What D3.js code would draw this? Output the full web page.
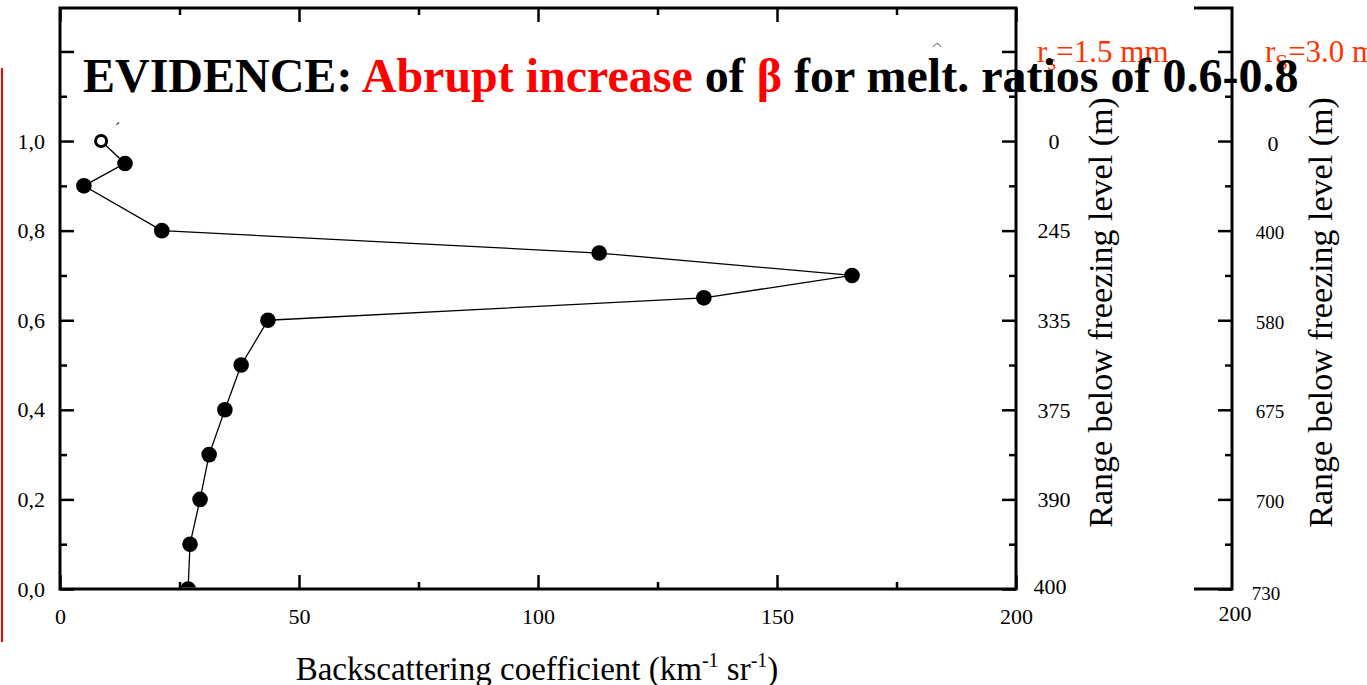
<!DOCTYPE html>
<html>
<head>
<meta charset="utf-8">
<script src="https://cdn.jsdelivr.net/npm/d3@7/dist/d3.min.js"></script>
<style>
  html, body { margin: 0; padding: 0; background: #fff; }
  svg { display: block; }
  text { font-family: "Liberation Serif", "Times New Roman", serif; }
</style>
</head>
<body>
<svg id="chart" width="1367" height="685"></svg>
<script>
// Melting ratio (vertical) and backscattering coefficient beta (km^-1 sr^-1)
const meltRatio = [1.0, 0.95, 0.9, 0.8, 0.75, 0.7, 0.65, 0.6, 0.5, 0.4, 0.3, 0.2, 0.1, 0.0];
const beta      = [8.6, 13.6, 5.0, 21.3, 112.8, 165.7, 134.7, 43.5, 37.9, 34.5, 31.2, 29.3, 27.2, 26.8];
// first profile point is drawn hollow
const hollow    = [true, false, false, false, false, false, false, false, false, false, false, false, false, false];

// axis ticks
const xMajorTicks = [0, 50, 100, 150, 200];
const xMinorTicks = [25, 75, 125, 175];
const yMajorTicks = [0, 0.2, 0.4, 0.6, 0.8, 1.0, 1.2];
const yMinorTicks = [0.1, 0.3, 0.5, 0.7, 0.9, 1.1];
const yLabelTicks = [0, 0.2, 0.4, 0.6, 0.8, 1.0];

// range below freezing level for two snowflake sizes
const rangeTicks   = [1.0, 0.8, 0.6, 0.4, 0.2, 0.0];
const range15mm    = ["0", "245", "335", "375", "390", "400"];
const range30mm    = ["0", "400", "580", "675", "700", "730"];

const svg = d3.select("#chart");
const plot = { left: 60, right: 1016, top: 8, bottom: 589 };
const axis2X = 1232;

const x = d3.scaleLinear().domain([0, 200]).range([plot.left, plot.right]);
const y = d3.scaleLinear().domain([0, 1.297]).range([plot.bottom, plot.top]);

const MAJ = 14, MIN = 7;
const TICK_FONT = 22;

function styleAxis(g) {
  g.selectAll("path.domain").remove();
  g.selectAll(".tick line").attr("stroke", "#000").attr("stroke-width", 2.5);
  g.selectAll("text").attr("font-size", TICK_FONT).attr("fill", "#000")
    .attr("font-family", "Liberation Serif");
}

// red side bar
svg.append("line").attr("x1", 2).attr("x2", 2).attr("y1", 68).attr("y2", 642)
  .attr("stroke", "#ff0000").attr("stroke-width", 2);

// frame of main plot
svg.append("rect")
  .attr("x", plot.left).attr("y", plot.top)
  .attr("width", plot.right - plot.left).attr("height", plot.bottom - plot.top)
  .attr("fill", "none").attr("stroke", "#000").attr("stroke-width", 3);

// bottom axis
const gB = svg.append("g").attr("transform", `translate(0,${plot.bottom})`)
  .call(d3.axisBottom(x).tickValues(xMajorTicks).tickSize(-MAJ).tickPadding(19).tickFormat(d3.format("d")));
styleAxis(gB);
const gBm = svg.append("g").attr("transform", `translate(0,${plot.bottom})`)
  .call(d3.axisBottom(x).tickValues(xMinorTicks).tickSize(-MIN).tickFormat(""));
styleAxis(gBm);

// top axis
const gT = svg.append("g").attr("transform", `translate(0,${plot.top})`)
  .call(d3.axisTop(x).tickValues(xMajorTicks).tickSize(-MAJ).tickFormat(""));
styleAxis(gT);
const gTm = svg.append("g").attr("transform", `translate(0,${plot.top})`)
  .call(d3.axisTop(x).tickValues(xMinorTicks).tickSize(-MIN).tickFormat(""));
styleAxis(gTm);

// left axis
const commaFmt = d => d.toFixed(1).replace(".", ",");
const gL = svg.append("g").attr("transform", `translate(${plot.left},0)`)
  .call(d3.axisLeft(y).tickValues(yMajorTicks).tickSize(-MAJ).tickPadding(15)
    .tickFormat(d => yLabelTicks.includes(d) ? commaFmt(d) : ""));
styleAxis(gL);
const gLm = svg.append("g").attr("transform", `translate(${plot.left},0)`)
  .call(d3.axisLeft(y).tickValues(yMinorTicks).tickSize(-MIN).tickFormat(""));
styleAxis(gLm);

// right axis of main plot (range for r_s = 1.5 mm)
const gR = svg.append("g").attr("transform", `translate(${plot.right},0)`)
  .call(d3.axisRight(y).tickValues(yMajorTicks).tickSize(-MAJ).tickFormat(""));
styleAxis(gR);
const gRm = svg.append("g").attr("transform", `translate(${plot.right},0)`)
  .call(d3.axisRight(y).tickValues(yMinorTicks).tickSize(-MIN).tickFormat(""));
styleAxis(gRm);
svg.append("g").selectAll("text").data(rangeTicks).join("text")
  .attr("x", (d, i) => i === rangeTicks.length - 1 ? 1050 : 1054)
  .attr("y", (d, i) => y(d) + (i === rangeTicks.length - 1 ? -3 : 0)).attr("dy", "0.35em")
  .attr("text-anchor", "middle").attr("font-size", TICK_FONT)
  .text((d, i) => range15mm[i]);

// second range axis (r_s = 3.0 mm)
svg.append("path")
  .attr("d", `M1194,${plot.top}H${axis2X}V${plot.bottom}H1194`)
  .attr("fill", "none").attr("stroke", "#000").attr("stroke-width", 3);
const gR2 = svg.append("g").attr("transform", `translate(${axis2X},0)`)
  .call(d3.axisRight(y).tickValues(yMajorTicks).tickSize(-MAJ).tickFormat(""));
styleAxis(gR2);
const gR2m = svg.append("g").attr("transform", `translate(${axis2X},0)`)
  .call(d3.axisRight(y).tickValues(yMinorTicks).tickSize(-MIN).tickFormat(""));
styleAxis(gR2m);
svg.append("g").selectAll("text").data(rangeTicks).join("text")
  .attr("x", (d, i) => i === 0 ? 1273 : (i === rangeTicks.length - 1 ? 1266 : 1270))
  .attr("y", (d, i) => y(d) + (i === rangeTicks.length - 1 ? 4 : 2)).attr("dy", "0.35em")
  .attr("text-anchor", "middle")
  .attr("font-size", (d, i) => i === 0 ? TICK_FONT : 19)
  .text((d, i) => range30mm[i]);
svg.append("text").attr("x", axis2X + 3).attr("y", 613).attr("dy", "0.35em")
  .attr("text-anchor", "middle").attr("font-size", TICK_FONT).text("200");

// axis titles
svg.append("text")
  .attr("transform", `translate(1112,${(97 + 528) / 2}) rotate(-90)`)
  .attr("text-anchor", "middle").attr("font-size", 34)
  .text("Range below freezing level (m)");
svg.append("text")
  .attr("transform", `translate(1332,${(97 + 528) / 2}) rotate(-90)`)
  .attr("text-anchor", "middle").attr("font-size", 34)
  .text("Range below freezing level (m)");

const xt = svg.append("text").attr("x", 537).attr("y", 680)
  .attr("text-anchor", "middle").attr("font-size", 33);
xt.append("tspan").text("Backscattering coefficient (km");
xt.append("tspan").attr("dy", -13).attr("font-size", 20).text("-1");
xt.append("tspan").attr("dy", 13).text(" sr");
xt.append("tspan").attr("dy", -13).attr("font-size", 20).text("-1");
xt.append("tspan").attr("dy", 13).text(")");

// size labels
function sizeLabel(x0, sub, val) {
  const t = svg.append("text").attr("x", x0).attr("y", 62)
    .attr("font-size", 31).attr("fill", "#ff3300");
  t.append("tspan").text("r");
  t.append("tspan").attr("dy", 8).attr("font-size", 23).text(sub);
  t.append("tspan").attr("dy", -8).text("=" + val);
}
sizeLabel(1037, "s", "1.5 mm");
sizeLabel(1265, "S", "3.0 mm");

// data profile
svg.append("defs").append("clipPath").attr("id", "plotClip")
  .append("rect").attr("x", plot.left).attr("y", plot.top)
  .attr("width", plot.right - plot.left).attr("height", plot.bottom - plot.top - 1.5);

const pts = meltRatio.map((m, i) => ({ m, b: beta[i], open: hollow[i] }));
const gData = svg.append("g").attr("clip-path", "url(#plotClip)");
gData.append("path").datum(pts)
  .attr("d", d3.line().x(d => x(d.b)).y(d => y(d.m)))
  .attr("fill", "none").attr("stroke", "#000").attr("stroke-width", 1.3);
gData.selectAll("circle").data(pts).join("circle")
  .attr("cx", d => x(d.b)).attr("cy", d => y(d.m))
  .attr("r", d => d.open ? 5.5 : 7.8)
  .attr("fill", d => d.open ? "#fff" : "#000")
  .attr("stroke", "#000").attr("stroke-width", d => d.open ? 3 : 0);

// small stray marks
svg.append("text").attr("x", 115).attr("y", 134).attr("font-size", 16).text("\u00b4");
svg.append("path").attr("d", "M933,47 Q937,40 941,47").attr("fill", "none")
  .attr("stroke", "#555").attr("stroke-width", 1);

// title
const title = svg.append("text").attr("x", 83).attr("y", 92)
  .attr("font-size", 48).attr("font-weight", "bold");
title.append("tspan").attr("fill", "#000").text("EVIDENCE: ");
title.append("tspan").attr("fill", "#ff0000").text("Abrupt increase");
title.append("tspan").attr("fill", "#000").text(" of ");
title.append("tspan").attr("fill", "#ff0000").text("\u03b2");
title.append("tspan").attr("fill", "#000").text(" for melt. ratios of 0.6-0.8");
</script>
</body>
</html>
